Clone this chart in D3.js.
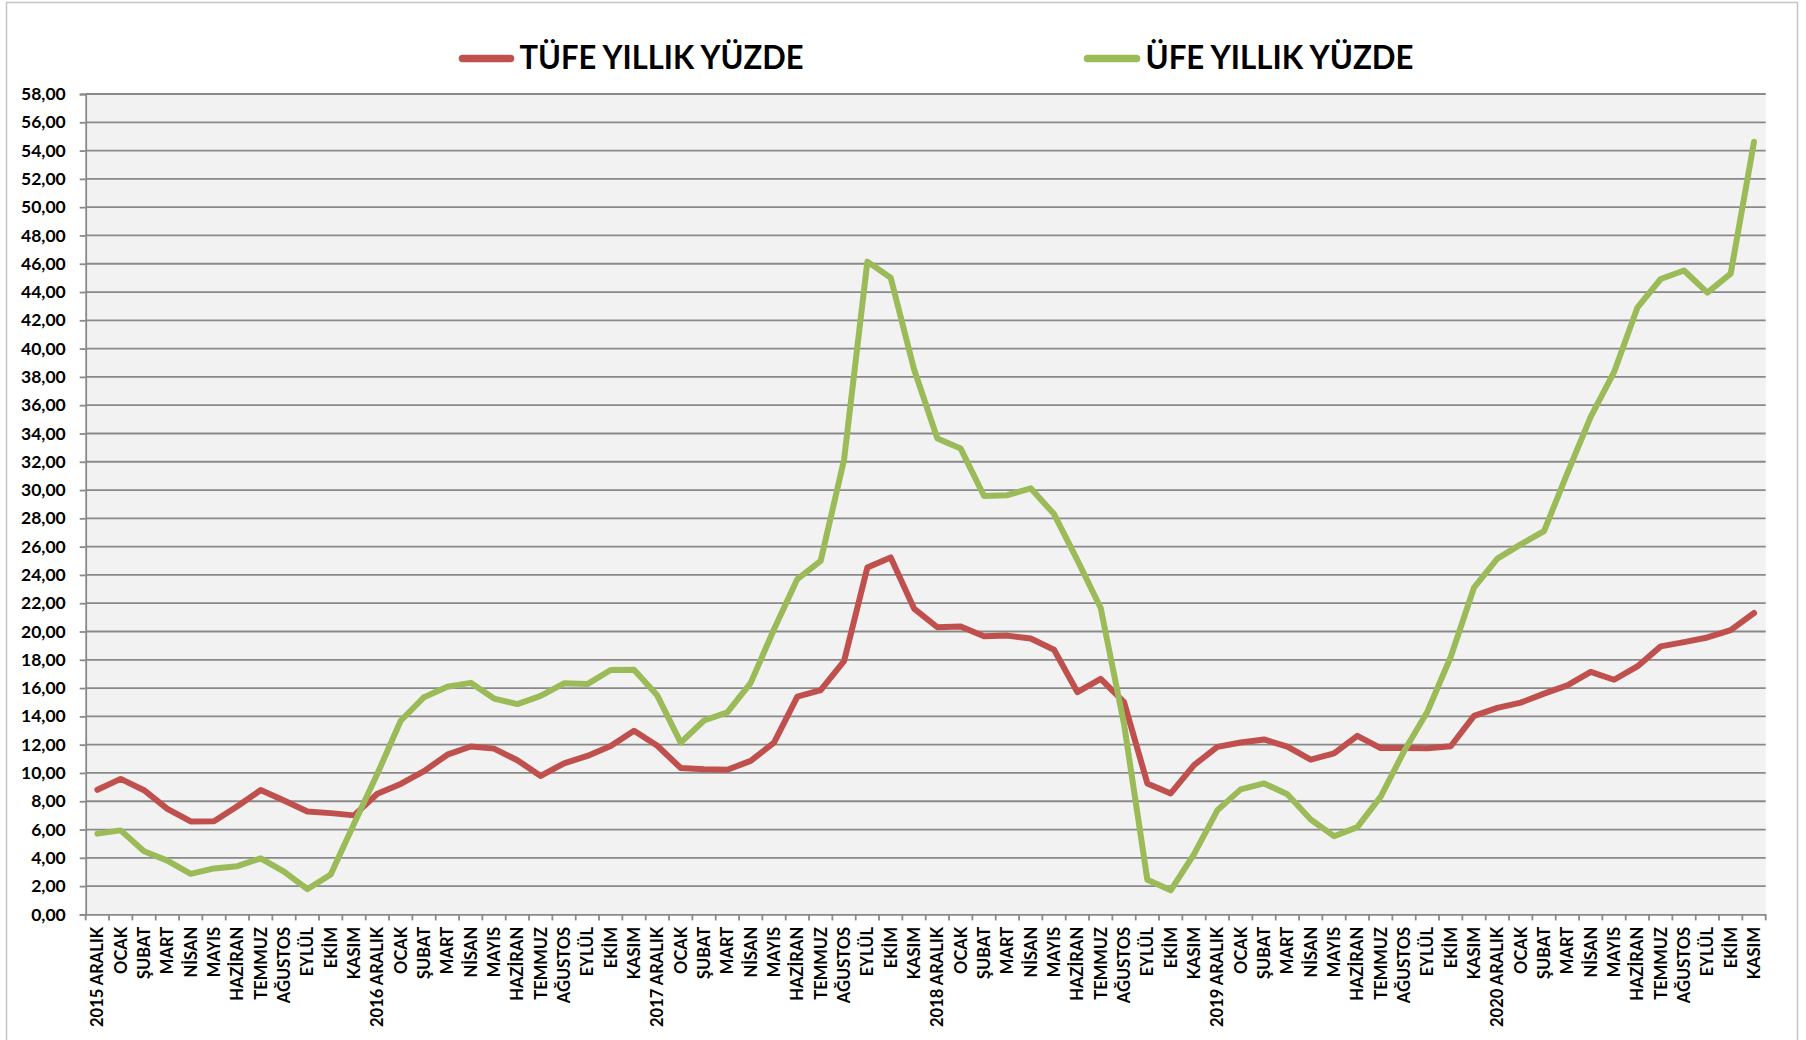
<!DOCTYPE html>
<html>
<head>
<meta charset="utf-8">
<script src="https://cdn.jsdelivr.net/npm/d3@7"></script>
<style>
  html, body { margin: 0; padding: 0; background: #ffffff; }
  svg { display: block; }
  text { font-family: Lato, "Open Sans", "DejaVu Sans", sans-serif; font-weight: 700; fill: #000; }
</style>
</head>
<body>
<svg id="chart" width="1806" height="1040"></svg>
<script>
// ---- Data ----
const years = ["2015", "2016", "2017", "2018", "2019", "2020"];
const months = ["ARALIK", "OCAK", "ŞUBAT", "MART", "NİSAN", "MAYIS", "HAZİRAN", "TEMMUZ", "AĞUSTOS", "EYLÜL", "EKİM", "KASIM"];
const categories = [];
years.forEach(y => months.forEach((m, i) => categories.push(i === 0 ? y + " " + m : m)));

const seriesNames = ["TÜFE YILLIK YÜZDE", "ÜFE YILLIK YÜZDE"];

const tufe = [
  8.81,
  9.58, 8.78, 7.46, 6.57, 6.58, 7.64, 8.79, 8.05, 7.28, 7.16, 7.00, 8.53,
  9.22, 10.13, 11.29, 11.87, 11.72, 10.90, 9.79, 10.68, 11.20, 11.90, 12.98, 11.92,
  10.35, 10.26, 10.23, 10.85, 12.15, 15.39, 15.85, 17.90, 24.52, 25.24, 21.62, 20.30,
  20.35, 19.67, 19.71, 19.50, 18.71, 15.72, 16.65, 15.01, 9.26, 8.55, 10.56, 11.84,
  12.15, 12.37, 11.86, 10.94, 11.39, 12.62, 11.76, 11.77, 11.75, 11.89, 14.03, 14.60,
  14.97, 15.61, 16.19, 17.14, 16.59, 17.53, 18.95, 19.25, 19.58, 20.10, 21.31
];

const ufe = [
  5.71,
  5.94, 4.47, 3.80, 2.87, 3.25, 3.41, 3.96, 3.03, 1.78, 2.82, 6.41, 9.94,
  13.69, 15.36, 16.09, 16.37, 15.26, 14.87, 15.45, 16.34, 16.28, 17.28, 17.30, 15.47,
  12.14, 13.71, 14.28, 16.37, 20.16, 23.71, 25.00, 32.13, 46.15, 45.01, 38.54, 33.64,
  32.93, 29.58, 29.64, 30.12, 28.30, 25.04, 21.66, 13.45, 2.45, 1.70, 4.26, 7.36,
  8.84, 9.26, 8.50, 6.71, 5.53, 6.17, 8.33, 11.53, 14.33, 18.20, 23.11, 25.15,
  26.16, 27.09, 31.20, 35.17, 38.33, 42.89, 44.92, 45.52, 43.96, 45.30, 54.62
];

const yTicks = d3.range(0, 58.001, 2);

// ---- Layout ----
const plot = { left: 85.7, right: 1765.7, top: 94, bottom: 914.4 };
const colors = ["#C0504D", "#9BBB59"];
const gridColor = "#898989";

const svg = d3.select("#chart");

// outer frame
svg.append("rect")
  .attr("x", 6.5).attr("y", 2.5)
  .attr("width", 1791).attr("height", 1060)
  .attr("fill", "#ffffff")
  .attr("stroke", "#C4C4C4").attr("stroke-width", 1.5);

const idx = d3.range(categories.length);
const x = d3.scaleBand().domain(idx).range([plot.left, plot.right]).paddingInner(0).paddingOuter(0);
const y = d3.scaleLinear().domain([0, 58]).range([plot.bottom, plot.top]);

// plot background
svg.append("rect")
  .attr("x", plot.left).attr("y", plot.top)
  .attr("width", plot.right - plot.left).attr("height", plot.bottom - plot.top)
  .attr("fill", "#F2F2F2");

// gridlines
svg.append("g").selectAll("line")
  .data(yTicks.filter(v => v > 0))
  .join("line")
  .attr("x1", plot.left).attr("x2", plot.right)
  .attr("y1", d => y(d)).attr("y2", d => y(d))
  .attr("stroke", gridColor).attr("stroke-width", 1.8);

// Y axis
const yAxis = d3.axisLeft(y)
  .tickValues(yTicks)
  .tickSize(6)
  .tickPadding(14)
  .tickFormat(d => d3.format(".2f")(d).replace(".", ","));
const gy = svg.append("g").attr("transform", `translate(${plot.left},0)`).call(yAxis);
gy.select(".domain").attr("stroke", gridColor).attr("stroke-width", 1.8);
gy.selectAll(".tick line").attr("stroke", gridColor).attr("stroke-width", 1.8);
gy.selectAll(".tick text")
  .attr("font-family", "Lato, 'Open Sans', sans-serif")
  .attr("font-weight", 700)
  .attr("font-size", 17.5)
  .attr("fill", "#000");

// X axis
const xAxis = d3.axisBottom(x).tickSize(0).tickSizeOuter(0).tickFormat(i => categories[i]);
const gx = svg.append("g").attr("transform", `translate(0,${plot.bottom})`).call(xAxis);
gx.select(".domain").attr("stroke", gridColor).attr("stroke-width", 1.8);
gx.selectAll(".tick text")
  .attr("font-family", "Lato, 'Open Sans', sans-serif")
  .attr("font-weight", 700)
  .attr("font-size", 16.5)
  .attr("fill", "#000")
  .attr("text-anchor", "end")
  .attr("transform", "rotate(-90)")
  .attr("x", -12.5)
  .attr("y", 0)
  .attr("dy", "0.36em");
// tick marks at band boundaries
const boundaries = idx.map(i => x(i)).concat([x(idx[idx.length - 1]) + x.bandwidth()]);
svg.append("g").selectAll("line")
  .data(boundaries)
  .join("line")
  .attr("x1", d => d).attr("x2", d => d)
  .attr("y1", plot.bottom).attr("y2", plot.bottom + 6)
  .attr("stroke", gridColor).attr("stroke-width", 1.8);

// lines
const line = d3.line()
  .x((d, i) => x(i) + x.bandwidth() / 2)
  .y(d => y(d));

[tufe, ufe].forEach((s, k) => {
  svg.append("path")
    .datum(s)
    .attr("d", line)
    .attr("fill", "none")
    .attr("stroke", colors[k])
    .attr("stroke-width", 6)
    .attr("stroke-linejoin", "round")
    .attr("stroke-linecap", "round");
});

// legend
const legendItems = [
  { name: seriesNames[0], color: colors[0], x1: 462.5, x2: 510.5, tx: 519.5, tl: 284 },
  { name: seriesNames[1], color: colors[1], x1: 1087.5, x2: 1136.5, tx: 1145.5, tl: 268 }
];
const lg = svg.append("g");
legendItems.forEach(it => {
  lg.append("line")
    .attr("x1", it.x1).attr("x2", it.x2)
    .attr("y1", 58.5).attr("y2", 58.5)
    .attr("stroke", it.color).attr("stroke-width", 7.5)
    .attr("stroke-linecap", "round");
  lg.append("text")
    .attr("x", it.tx).attr("y", 69)
    .attr("font-size", 31.5)
    .attr("textLength", it.tl)
    .attr("lengthAdjust", "spacingAndGlyphs")
    .text(it.name);
});
</script>
</body>
</html>
